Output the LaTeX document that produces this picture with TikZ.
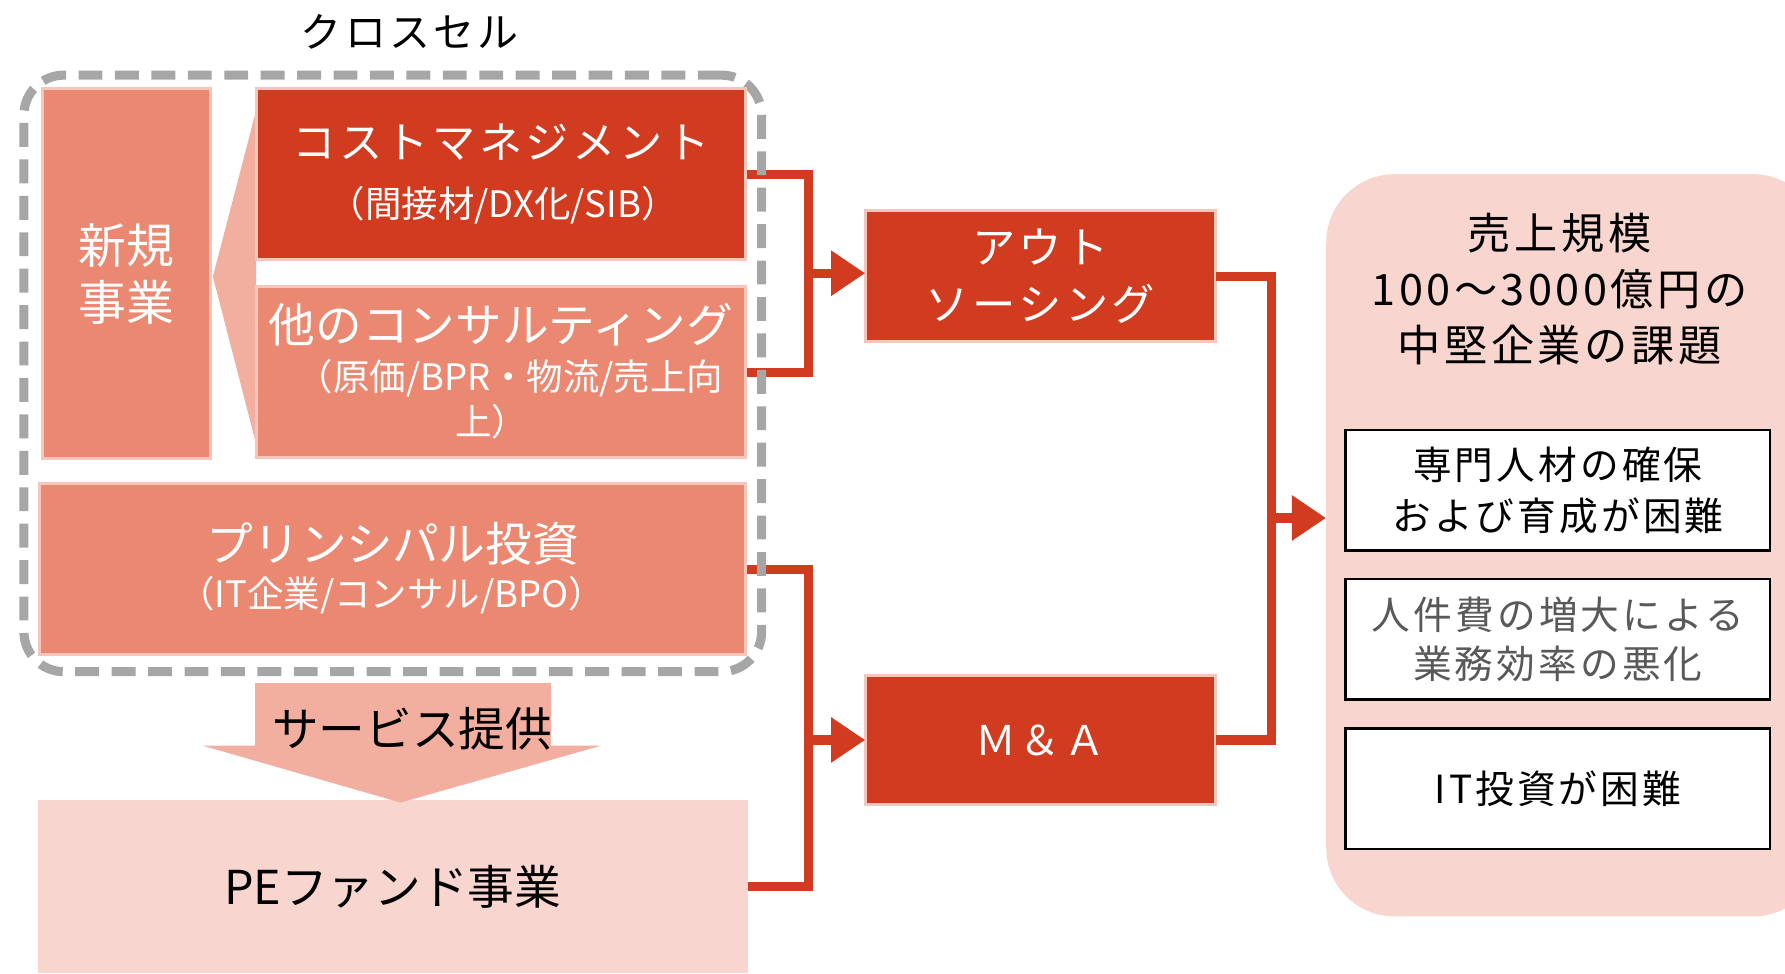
\documentclass[tikz,border=0pt]{standalone}
\usepackage{fontspec}
\setmainfont{Noto Sans CJK JP}
\newfontfamily\jpsp{Noto Sans CJK JP}[LetterSpace=8]
\usetikzlibrary{arrows.meta}
\definecolor{dred}{HTML}{D13B1F}
\definecolor{salmon}{HTML}{EA8872}
\definecolor{lsalmon}{HTML}{F2AFA0}
\definecolor{pinkbg}{HTML}{F8D5CE}
\definecolor{paleedge}{HTML}{F6C6BA}
\definecolor{dashgray}{HTML}{A6A6A6}
\definecolor{txtgray}{HTML}{595959}
\newcommand\fsz[2]{\fontsize{#1}{#2}\selectfont}
\begin{document}
\begin{tikzpicture}[x=1pt,y=-1pt,
  box/.style={rectangle, inner sep=0pt, outer sep=0pt, draw=paleedge, line width=2.5pt},
  darkbox/.style={box, fill=dred, text=white},
  midbox/.style={box, fill=salmon, text=white},
  conn/.style={draw=dred, line width=8pt},
  tip/.style={-{Triangle[length=30pt,width=38pt]}},
  issue/.style={rectangle, draw=black, line width=2pt, fill=white, inner sep=0pt,
                minimum width=373pt, minimum height=106pt, align=center},
  lbl/.style={inner sep=0pt, align=center}]
\useasboundingbox (0,0) rectangle (1568,855);
\clip (0,0) rectangle (1568,855);

% right background box
\node (rb) [rectangle, fill=pinkbg, rounded corners=60pt, minimum width=435pt,
  minimum height=652pt, inner sep=0pt] at (1382.5,479) {};

% junction points
\coordinate (j1) at (710,240);
\coordinate (j2) at (710,650);
\coordinate (j3) at (1117,455);

% boxes
\node (cm) [darkbox, minimum width=430pt, minimum height=150pt] at (440,153) {};
\node (oc) [midbox, minimum width=430pt, minimum height=150pt] at (440,327) {};
\node (pi) [midbox, minimum width=620pt, minimum height=150pt] at (345,500) {};
\node (pe) [rectangle, fill=pinkbg, inner sep=0pt, minimum width=624pt, minimum height=152pt,
  font=\fsz{41}{41}] at (345,779) {PEファンド事業};
\node (out) [darkbox, minimum width=308pt, minimum height=115pt, align=center,
  font=\jpsp\fsz{38}{50}] at (914,242.5) {アウト\\ソーシング};
\node (ma) [darkbox, minimum width=308pt, minimum height=114pt,
  font=\jpsp\fsz{36}{36}] at (914,650) {Ｍ＆Ａ};

% connectors
\draw[conn] (cm.east) -| (j1) |- (oc.east);
\draw[conn, tip] (j1) -- (j1 -| out.west);
\draw[conn] (pi.east) -| (j2) |- (pe.east);
\draw[conn, tip] (j2) -- (j2 -| ma.west);
\draw[conn] (out.east) -| (j3) |- (ma.east);
\draw[conn, tip] (j3) -- (j3 -| rb.west);

% dashed cross-sell frame
\node (xs) [rectangle, draw=dashgray, line width=8pt, dash pattern=on 21pt off 11pt,
  rounded corners=35pt, minimum width=648pt, minimum height=524pt, inner sep=0pt] at (345,328) {};
\node (xst) [lbl, font=\jpsp\fsz{36}{36}] at (360,28) {クロスセル};

% wedge between new business and the two consulting boxes
\fill[lsalmon] (187,243) -- (225,97) -- (225,390) -- cycle;

% boxes on top of the frame
\node (nk) [midbox, minimum width=148pt, minimum height=325pt, align=center,
  font=\fsz{42}{50}] at (111,240.5) {新規\\事業};
\node (cm2) [darkbox, minimum width=430pt, minimum height=150pt] at (440,153) {};
\node (oc2) [midbox, minimum width=430pt, minimum height=150pt] at (440,327) {};
\node (pi2) [midbox, minimum width=620pt, minimum height=150pt] at (345,500) {};

\node (cmt) [lbl, text=white, font=\jpsp\fsz{38}{38}] at (440,125) {コストマネジメント};
\node (cms) [lbl, text=white, font=\fsz{32}{32}] at (442,180) {（間接材/DX化/SIB）};
\node (oct) [lbl, text=white, font=\fsz{41}{41}] at (440,285) {他のコンサルティング};
\node (ocs) [lbl, text=white, font=\fsz{32}{32}] at (448,332) {（原価/BPR・物流/売上向};
\node (ocs2) [lbl, text=white, font=\fsz{32}{32}] at (432,370) {上）};
\node (pit) [lbl, text=white, font=\fsz{41}{41}] at (345,478) {プリンシパル投資};
\node (pis) [lbl, text=white, font=\fsz{32}{32}] at (344,523) {（IT企業/コンサル/BPO）};

% service arrow
\fill[lsalmon] (224,600) -- (484,600) -- (484,655) -- (528,655) -- (352,705)
  -- (178,655) -- (224,655) -- cycle;
\node (sv) [lbl, font=\fsz{41}{41}] at (362,640) {サービス提供};

% right box content
\node (rbt) [lbl, font=\jpsp\fsz{38}{49}] at (1370,254) {売上規模\\100〜3000億円の\\中堅企業の課題};
\node (is1) [issue, font=\jpsp\fsz{34}{45}] at (1368.5,430.5) {専門人材の確保\\および育成が困難};
\node (is2) [issue, text=txtgray, font=\jpsp\fsz{34}{43}] at (1368.5,561.5) {人件費の増大による\\業務効率の悪化};
\node (is3) [issue, font=\jpsp\fsz{34}{34}] at (1368.5,693) {IT投資が困難};
\end{tikzpicture}
\end{document}
